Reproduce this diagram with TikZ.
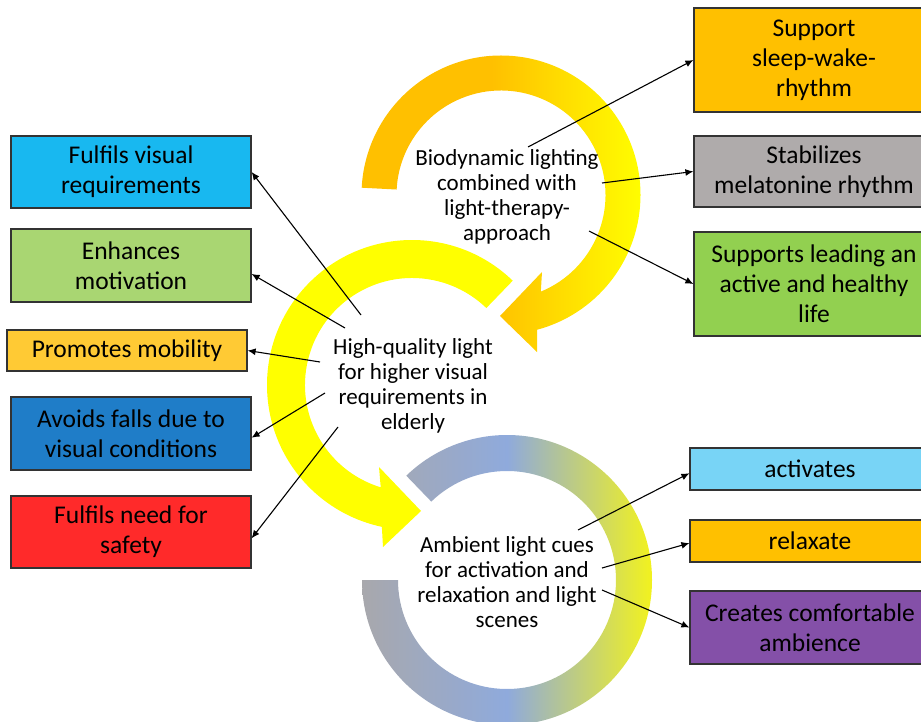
\documentclass[tikz,border=0pt]{standalone}
\usepackage{fontspec}
\setmainfont{Carlito}
\usetikzlibrary{positioning, calc, arrows.meta}

\definecolor{ringorange}{RGB}{255,192,0}
\definecolor{ringyellow}{RGB}{255,255,0}
\definecolor{ringgrey}{RGB}{168,168,172}
\definecolor{ringblue}{RGB}{143,170,220}
\definecolor{ringlime}{RGB}{242,242,30}
\definecolor{skyblue}{RGB}{24,184,240}
\definecolor{leafgreen}{RGB}{169,214,114}
\definecolor{sunyellow}{RGB}{255,202,52}
\definecolor{deepblue}{RGB}{31,125,200}
\definecolor{alarmred}{RGB}{255,42,42}
\definecolor{stonegrey}{RGB}{175,171,171}
\definecolor{grassgreen}{RGB}{146,208,80}
\definecolor{paleblue}{RGB}{120,212,246}
\definecolor{violet}{RGB}{132,80,168}

\pgfdeclarehorizontalshading{ringone}{100bp}{color(0bp)=(ringorange); color(48bp)=(ringorange); color(75bp)=(ringyellow); color(100bp)=(ringyellow)}
\pgfdeclarehorizontalshading{ringthree}{100bp}{color(0bp)=(ringgrey); color(25bp)=(ringgrey); color(50bp)=(ringblue); color(75bp)=(ringlime); color(100bp)=(ringlime)}

\def\boxtext{\fontsize{25.5}{30}\selectfont}
\def\ringtext{\fontsize{23}{25}\selectfont}

\tikzset{
  effect/.style={draw=black!80, line width=1.2pt, minimum width=240pt, align=center,
    inner sep=0pt, font=\boxtext},
  hub/.style={align=center, font=\ringtext, inner sep=0pt},
  link/.style={line width=1.1pt, -{Latex[length=8pt,width=7pt]}}
}

\begin{document}
\begin{tikzpicture}[x=1pt, y=1pt]
  \useasboundingbox (0,0) rectangle (921,-722);
  \coordinate (C1) at (501,-195);
  \coordinate (C2) at (412,-385);
  \coordinate (C3) at (507,-580);
  % the three circular arrows
  \shade[shading=ringone] ($(C1)+(177:139.5)$) arc[start angle=177, end angle=-75, radius=139.5]
    -- (537,-352) -- (500,-316) -- (542,-272)
    -- ($(C1)+(-67.6:104.5)$) arc[start angle=-67.6, end angle=177, radius=104.5] -- cycle;
  \fill[ringyellow] ($(C2)+(46:145)$) arc[start angle=46, end angle=258, radius=145]
    -- (383,-547) -- (421,-511) -- (379,-467)
    -- ($(C2)+(253:107)$) arc[start angle=253, end angle=46, radius=107] -- cycle;
  \shade[shading=ringthree] ($(C3)+(180:145)$) arc[start angle=180, end angle=494, radius=145]
    -- ($(C3)+(494:109)$) arc[start angle=494, end angle=180, radius=109] -- cycle;

  \node[hub] (bio) at (507,-197) {Biodynamic lighting\\combined with\\light-therapy-\\approach};
  \node[hub] (hq) at (413,-386) {High-quality light\\for higher visual\\requirements in\\elderly};
  \node[hub] (amb) at (507,-582) {Ambient light cues\\for activation and\\relaxation and light\\scenes};

  % left column
  \node[effect, fill=skyblue, minimum height=72pt] (fulvis) at (131,-172) {Fulfils visual\\requirements};
  \node[effect, fill=leafgreen, minimum height=73pt] (enhmot) at (131,-265.5) {Enhances\\motivation};
  \node[effect, fill=sunyellow, minimum height=41pt] (promob) at (127,-350.5) {Promotes mobility};
  \node[effect, fill=deepblue, minimum height=73pt] (avfall) at (131,-433.5) {Avoids falls due to\\visual conditions};
  \node[effect, fill=alarmred, minimum height=72pt] (fulsafe) at (131,-532) {Fulfils need for\\safety};

  % right column
  \node[effect, fill=ringorange, minimum height=104pt] (sleep) at (814,-60) {Support\\sleep-wake-\\rhythm};
  \node[effect, fill=stonegrey, minimum height=71pt] (melat) at (814,-171.5) {Stabilizes\\melatonine rhythm};
  \node[effect, fill=grassgreen, minimum height=104pt] (lead) at (814,-284) {Supports leading an\\active and healthy\\life};
  \node[effect, fill=paleblue, minimum height=42pt] (actv) at (810,-469) {activates};
  \node[effect, fill=ringorange, minimum height=42pt] (relax) at (810,-541) {relaxate};
  \node[effect, fill=violet, minimum height=73pt] (comfort) at (810,-627.5) {Creates comfortable\\ambience};

  % connectors
  \coordinate (b1) at (528,-147);
  \coordinate (b2) at (602,-183);
  \coordinate (b3) at (589,-231);
  \coordinate (h1) at (361,-315);
  \coordinate (h2) at (345,-328);
  \coordinate (h3) at (320,-362);
  \coordinate (h4) at (325,-393);
  \coordinate (h5) at (338,-427);
  \coordinate (a1) at (578,-530);
  \coordinate (a2) at (602,-568);
  \coordinate (a3) at (602,-590);
  \draw[link] (b1) -- (sleep.west);
  \draw[link] (b2) -- (melat.west);
  \draw[link] (b3) -- (lead.west);
  \draw[link] (h1) -- (fulvis.east);
  \draw[link] (h2) -- (enhmot.-4);
  \draw[link] (h3) -- (promob.east);
  \draw[link] (h4) -- (avfall.-2);
  \draw[link] (h5) -- (fulsafe.-3);
  \draw[link] (a1) -- (actv.182);
  \draw[link] (a2) -- (relax.181.5);
  \draw[link] (a3) -- (comfort.west);
\end{tikzpicture}
\end{document}
